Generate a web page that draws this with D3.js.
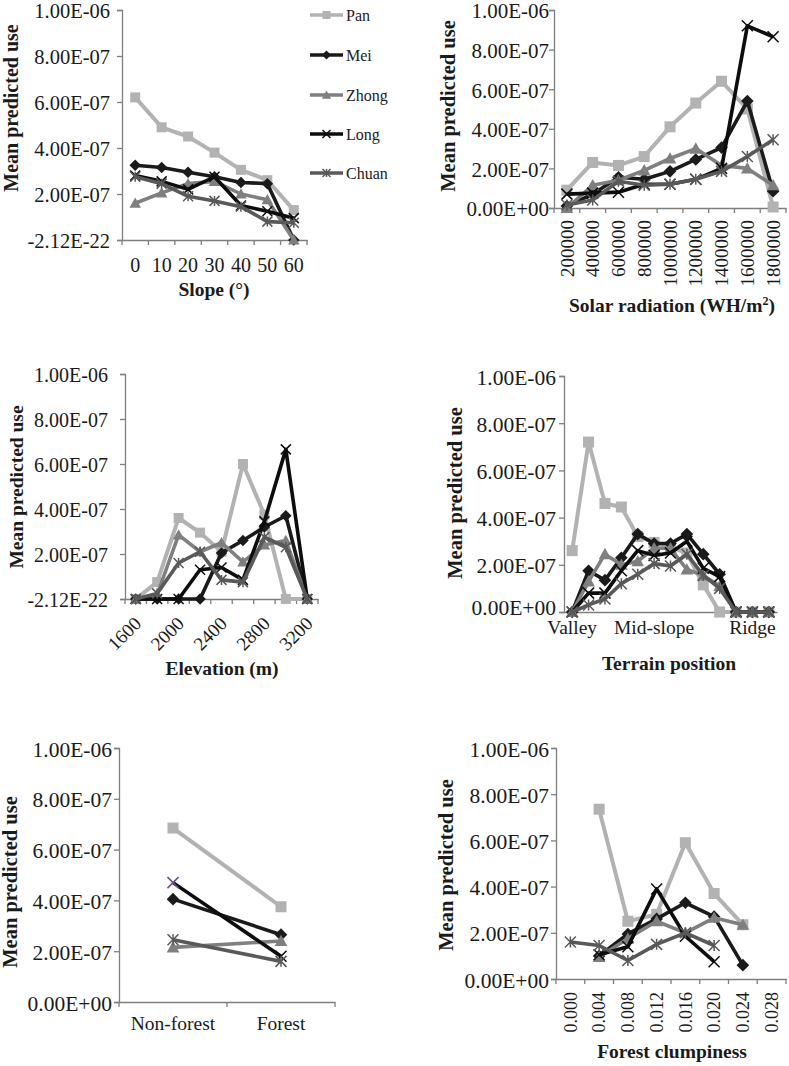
<!DOCTYPE html>
<html><head><meta charset="utf-8">
<script src="https://cdn.jsdelivr.net/npm/d3@7"></script>
<style>
body{margin:0;background:#fff}
svg{display:block}
svg text{font-family:"Liberation Serif","Times New Roman",Times,"DejaVu Serif","Noto Serif",serif !important;fill:#1a1a1a}
</style>
</head><body>
<svg id="c" width="789" height="1066"></svg>
<script>
// ---------- shared ----------
const seriesNames = ["Pan","Mei","Zhong","Long","Chuan"];
const seriesColors = ["#b2b2b2","#1a1a1a","#7f7f7f","#0d0d0d","#595959"];
const markerTypes = ["square","diamond","triangle","x","asterisk"];
const UNIT = 1e-7; // values below are in units of 1e-7
const yTickValues = [0,2,4,6,8,10];
const yLabelsNeg = ["-2.12E-22","2.00E-07","4.00E-07","6.00E-07","8.00E-07","1.00E-06"];
const yLabelsZero = ["0.00E+00","2.00E-07","4.00E-07","6.00E-07","8.00E-07","1.00E-06"];

// ---------- Slope ----------
const slopeCats = ["0","10","20","30","40","50","60"];
const slopePan   = [6.2, 4.9, 4.5, 3.8, 3.05, 2.6, 1.3];
const slopeMei   = [3.25, 3.15, 2.95, 2.75, 2.5, 2.45, 0];
const slopeZhong = [1.6, 2.05, 2.45, 2.55, 2.0, 1.75, 0];
const slopeLong  = [2.8, 2.55, 2.2, 2.75, 1.5, 1.25, 0.95];
const slopeChuan = [2.75, 2.45, 1.9, 1.7, 1.45, 0.8, 0.75];

// ---------- Solar radiation ----------
const solarCats = ["200000","400000","600000","800000","1000000","1200000","1400000","1600000","1800000"];
const solarPan   = [0.9, 2.3, 2.15, 2.6, 4.1, 5.3, 6.4, 5.0, 0.05];
const solarMei   = [0.1, 0.7, 1.55, 1.45, 1.85, 2.45, 3.05, 5.4, 0.85];
const solarZhong = [0, 1.15, 1.4, 1.9, 2.5, 3.0, 2.15, 2.0, 1.15];
const solarLong  = [0.7, 0.75, 0.8, 1.2, 1.2, 1.45, 2.0, 9.2, 8.65];
const solarChuan = [0.15, 0.4, 1.35, 1.15, 1.2, 1.45, 1.85, 2.6, 3.45];

// ---------- Elevation ----------
const elevCats = ["1600","1800","2000","2200","2400","2600","2800","3000","3200"];
const elevShown = ["1600","2000","2400","2800","3200"];
const elevPan   = [0, 0.75, 3.6, 2.95, 2.1, 6.0, 3.75, 0, 0];
const elevMei   = [0, 0, 0, 0, 2.05, 2.6, 3.2, 3.7, 0];
const elevZhong = [0, 0.2, 2.85, 2.1, 2.5, 1.65, 2.4, 2.6, 0];
const elevLong  = [0, 0, 0, 1.3, 1.4, 0.85, 3.45, 6.65, 0];
const elevChuan = [0, 0.25, 1.6, 2.1, 0.85, 0.75, 2.75, 2.3, 0];

// ---------- Terrain position ----------
const terrCats = ["t0","t1","t2","t3","t4","t5","t6","t7","t8","t9","t10","t11","t12"];
const terrLabels = {"t0":"Valley","t5":"Mid-slope","t11":"Ridge"};
const terrPan   = [2.6, 7.2, 4.6, 4.45, 3.2, 2.95, 2.75, 2.5, 1.15, 0, 0, 0, 0];
const terrMei   = [0, 1.75, 1.35, 2.3, 3.3, 2.9, 2.9, 3.3, 2.45, 1.6, 0, 0, 0];
const terrZhong = [0, 1.3, 2.45, 2.0, 2.15, 2.7, 2.7, 1.8, 1.55, 1.1, 0, 0, 0];
const terrLong  = [0, 0.8, 0.8, 1.75, 2.6, 2.4, 2.5, 3.0, 1.85, 1.5, 0, 0, 0];
const terrChuan = [0, 0.3, 0.55, 1.2, 1.6, 2.05, 1.95, 2.45, 1.55, 1.0, 0, 0, 0];

// ---------- Forest ----------
const forestCats = ["Non-forest","Forest"];
const forestPan   = [6.85, 3.75];
const forestMei   = [4.05, 2.65];
const forestZhong = [2.15, 2.4];
const forestLong  = [4.7, 1.8];
const forestChuan = [2.45, 1.6];

// ---------- Forest clumpiness ----------
const clumpCats = ["0.000","0.004","0.008","0.012","0.016","0.020","0.024","0.028"];
const clumpPan   = [null, 7.35, 2.5, 2.8, 5.9, 3.7, 2.35, null];
const clumpMei   = [null, 1.0, 1.95, 2.6, 3.3, 2.7, 0.6, null];
const clumpZhong = [null, 0.95, 1.75, 2.5, 2.0, 2.65, 2.35, null];
const clumpLong  = [null, 1.05, 1.4, 3.9, 1.85, 0.75, null, null];
const clumpChuan = [1.6, 1.45, 0.8, 1.5, 2.0, 1.45, null, null];

const FONT = '"Liberation Serif","Times New Roman",Times,"DejaVu Serif","Noto Serif",serif';
const svg = d3.select("#c");

function marker(g, type, cx, cy, color, s) {
  const h = s/2;
  if (type === "square") {
    g.append("rect").attr("x",cx-h).attr("y",cy-h).attr("width",s).attr("height",s).attr("fill",color);
  } else if (type === "diamond") {
    const r = h*1.15;
    g.append("path").attr("d",`M${cx},${cy-r}L${cx+r},${cy}L${cx},${cy+r}L${cx-r},${cy}Z`).attr("fill",color);
  } else if (type === "triangle") {
    const r = h*1.15;
    g.append("path").attr("d",`M${cx},${cy-r}L${cx+r},${cy+r*0.8}L${cx-r},${cy+r*0.8}Z`).attr("fill",color);
  } else if (type === "x") {
    g.append("path").attr("d",`M${cx-h},${cy-h}L${cx+h},${cy+h}M${cx-h},${cy+h}L${cx+h},${cy-h}`)
      .attr("stroke",color).attr("stroke-width",1.5).attr("fill","none");
  } else {
    g.append("path").attr("d",`M${cx-h},${cy-h}L${cx+h},${cy+h}M${cx-h},${cy+h}L${cx+h},${cy-h}M${cx},${cy-h}L${cx},${cy+h}`)
      .attr("stroke",color).attr("stroke-width",1.5).attr("fill","none");
  }
}

function panel(cfg) {
  const g = svg.append("g").attr("font-family",FONT);
  const x = d3.scaleBand().domain(cfg.cats).range([cfg.x0, cfg.x1]);
  const bw = x.bandwidth();
  const cx = c => x(c) + bw/2;
  const y = d3.scaleLinear().domain([0,10]).range([cfg.yZero, cfg.yTop]);
  const axisColor = "#7f7f7f";

  // y axis
  const ya = g.append("g").attr("transform",`translate(${cfg.x0},0)`)
    .call(d3.axisLeft(y).tickValues(yTickValues).tickSize(5).tickPadding(cfg.gap)
      .tickFormat((d,i)=>cfg.yLabels[i]));
  ya.attr("font-family",FONT);
  ya.select(".domain").attr("stroke",axisColor).attr("stroke-width",1.3);
  ya.selectAll(".tick line").attr("stroke",axisColor).attr("stroke-width",1.3);
  ya.selectAll(".tick text").attr("font-size",cfg.tickFont).attr("fill","#1a1a1a")
    .attr("dy",(d)=> (d===0 && cfg.zeroDy) ? cfg.zeroDy : "0.38em");

  // x axis line
  const xa = g.append("g").attr("transform",`translate(0,${cfg.yZero})`)
    .call(d3.axisBottom(x).tickSize(0).tickFormat(""));
  xa.select(".domain").attr("stroke",axisColor).attr("stroke-width",1.3);
  xa.selectAll(".tick").remove();
  if (cfg.xTicks) {
    const bounds = cfg.cats.map(c=>x(c)).concat([cfg.x1]);
    g.selectAll(null).data(bounds).enter().append("line")
      .attr("x1",d=>d).attr("x2",d=>d).attr("y1",cfg.yZero).attr("y2",cfg.yZero+5)
      .attr("stroke",axisColor).attr("stroke-width",1.3);
  }

  // x labels
  const lab = cfg.cats.filter(c => cfg.labelFn(c) !== "");
  lab.forEach(c => {
    const t = g.append("text").text(cfg.labelFn(c)).attr("font-size",cfg.labelFont);
    if (cfg.labelMode === "h") {
      t.attr("x",cx(c)).attr("y",cfg.labelY).attr("text-anchor","middle");
    } else if (cfg.labelMode === "v") {
      t.attr("transform",`translate(${cx(c)},${cfg.labelY}) rotate(-90)`)
       .attr("text-anchor","end").attr("dy","0.35em");
    } else {
      t.attr("transform",`translate(${cx(c)+cfg.rotDx},${cfg.labelY}) rotate(-45)`)
       .attr("text-anchor","end").attr("dy","0.35em");
    }
  });

  // titles
  if (cfg.title) {
    const tt = g.append("text").attr("x",cfg.titleX).attr("y",cfg.titleY).attr("text-anchor","middle")
      .attr("font-size",cfg.titleFont).attr("font-weight","bold");
    if (cfg.titleSup) {
      tt.append("tspan").text(cfg.title);
      tt.append("tspan").text(cfg.titleSup).attr("font-size",cfg.titleFont*0.62).attr("dy","-0.55em");
      tt.append("tspan").text(")").attr("dy","0.35em");
    } else tt.text(cfg.title);
  }
  g.append("text").text("Mean predicted use").attr("font-weight","bold").attr("font-size",cfg.ylabFont)
    .attr("text-anchor","middle").attr("transform",`translate(${cfg.ylabX},${cfg.ylabY}) rotate(-90)`);

  // series
  cfg.series.forEach((vals, si) => {
    const pts = cfg.cats.map((c,i)=>({c, v: vals[i]}));
    const line = d3.line().defined(d=>d.v!=null).x(d=>cx(d.c)).y(d=>y(d.v));
    g.append("path").attr("d",line(pts)).attr("fill","none").attr("stroke",seriesColors[si])
      .attr("stroke-width", si===0 ? 4 : 3.6).attr("stroke-linejoin","round");
    pts.forEach((d,i) => {
      if (d.v==null) return;
      let col = seriesColors[si];
      if (cfg.colorOverride && cfg.colorOverride[si] && cfg.colorOverride[si][i]) col = cfg.colorOverride[si][i];
      marker(g, markerTypes[si], cx(d.c), y(d.v), col, cfg.msize);
    });
  });
}

panel({cats:slopeCats, x0:122, x1:307, yZero:240, yTop:10, yLabels:yLabelsNeg, gap:7, tickFont:20.5,
  xTicks:true, labelMode:"h", labelFn:c=>c, labelY:272, labelFont:20,
  title:"Slope (°)", titleX:214, titleY:296, titleFont:19.5, ylabX:18, ylabY:108, ylabFont:20, msize:10,
  series:[slopePan,slopeMei,slopeZhong,slopeLong,slopeChuan]});

panel({cats:solarCats, x0:554, x1:786, yZero:208, yTop:10, yLabels:yLabelsZero, gap:0, tickFont:21,
  xTicks:true, labelMode:"v", labelFn:c=>c, labelY:220, labelFont:19,
  title:"Solar radiation (WH/m", titleSup:"2", titleX:672, titleY:312, titleFont:19.5, ylabX:455, ylabY:106, ylabFont:20.5, msize:11,
  series:[solarPan,solarMei,solarZhong,solarLong,solarChuan]});

panel({cats:elevCats, x0:125, x1:318, yZero:599, yTop:374, yLabels:yLabelsNeg, gap:12, tickFont:20,
  xTicks:true, labelMode:"r", rotDx:2, labelFn:c=>elevShown.includes(c)?c:"", labelY:620, labelFont:19,
  title:"Elevation (m)", titleX:222, titleY:675, titleFont:19.5, ylabX:23, ylabY:487, ylabFont:19.5, msize:10,
  series:[elevPan,elevMei,elevZhong,elevLong,elevChuan]});

panel({cats:terrCats, x0:564, x1:777, yZero:612, yTop:376, yLabels:yLabelsZero, gap:3, tickFont:21.5,
  zeroDy:"0.12em",
  xTicks:false, labelMode:"h", labelFn:c=>terrLabels[c]||"", labelY:634, labelFont:19.5,
  title:"Terrain position", titleX:669, titleY:670, titleFont:19.5, ylabX:462, ylabY:493, ylabFont:20.5, msize:11,
  series:[terrPan,terrMei,terrZhong,terrLong,terrChuan]});

panel({cats:forestCats, x0:119, x1:335, yZero:1002, yTop:748, yLabels:yLabelsZero, gap:2, tickFont:21.5,
  xTicks:true, labelMode:"h", labelFn:c=>c, labelY:1030, labelFont:19.5,
  title:null, ylabX:17, ylabY:882, ylabFont:20.5, msize:11,
  colorOverride:{3:["#6a4f8f",null]},
  series:[forestPan,forestMei,forestZhong,forestLong,forestChuan]});

panel({cats:clumpCats, x0:556, x1:786, yZero:979, yTop:748, yLabels:yLabelsZero, gap:2, tickFont:21.5,
  xTicks:true, labelMode:"v", labelFn:c=>c, labelY:992, labelFont:18,
  title:"Forest clumpiness", titleX:672, titleY:1058, titleFont:19.5, ylabX:453, ylabY:865, ylabFont:20.5, msize:11,
  series:[clumpPan,clumpMei,clumpZhong,clumpLong,clumpChuan]});

// legend
const legRows = [15,55,95,134,173];
const lg = svg.append("g").attr("font-family",FONT);
seriesNames.forEach((n,i) => {
  const yy = legRows[i];
  lg.append("line").attr("x1",310).attr("x2",343).attr("y1",yy).attr("y2",yy)
    .attr("stroke",seriesColors[i]).attr("stroke-width",3.4);
  marker(lg, markerTypes[i], 326.5, yy, seriesColors[i], 8);
  lg.append("text").text(n).attr("x",346).attr("y",yy+5.5).attr("font-size",16);
});
</script>
</body></html>
